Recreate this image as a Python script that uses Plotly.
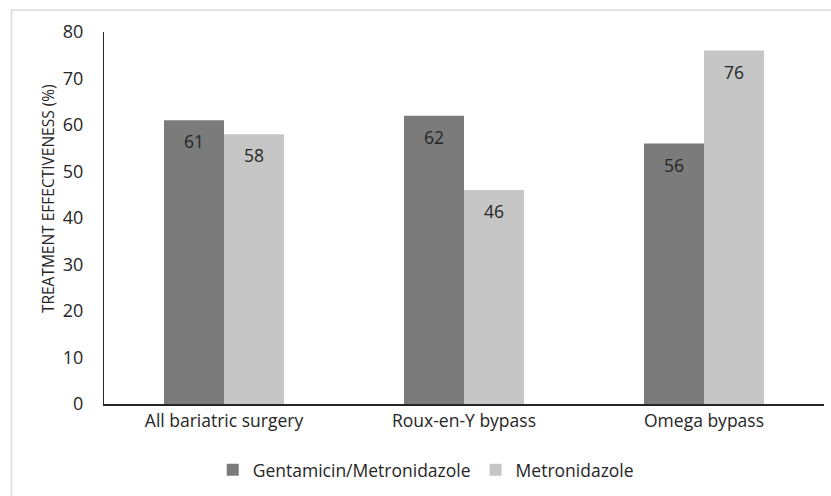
import plotly.graph_objects as go

categories = ["All bariatric surgery", "Roux-en-Y bypass", "Omega bypass"]
genta_metro = [61, 62, 56]
metro = [58, 46, 76]
series_names = ["Gentamicin/Metronidazole", "Metronidazole"]
y_ticks = [0, 10, 20, 30, 40, 50, 60, 70, 80]
y_title = "TREATMENT EFFECTIVENESS (%)"

FONT = "'Open Sans', sans-serif"
DARK = "#7b7b7b"
LIGHT = "#c5c6c5"
TXT = "#262626"

fig = go.Figure()
fig.add_trace(go.Bar(name=series_names[0], x=categories, y=genta_metro,
                     marker=dict(color=DARK, line=dict(width=0))))
fig.add_trace(go.Bar(name=series_names[1], x=categories, y=metro,
                     marker=dict(color=LIGHT, line=dict(width=0))))

annotations = []
for vals, shift in ((genta_metro, -30), (metro, 30)):
    for c, v in zip(categories, vals):
        annotations.append(dict(x=c, y=v, xref="x", yref="y", text=str(v),
                                showarrow=False, xshift=shift, yshift=-21,
                                font=dict(family=FONT, size=17.5, color=TXT)))
annotations.append(dict(x=-0.078, y=0.553, xref="paper", yref="paper", text=y_title,
                        textangle=-90, showarrow=False, xanchor="center", yanchor="middle",
                        font=dict(family=FONT, size=15.5, color=TXT)))

fig.update_layout(
    width=831, height=496,
    margin=dict(l=104, r=7, t=32, b=92),
    paper_bgcolor="white", plot_bgcolor="white",
    barmode="group", bargap=0.5, bargroupgap=0,
    font=dict(family=FONT, size=17, color=TXT),
    showlegend=True,
    legend=dict(orientation="h", x=0.151, xanchor="left", y=-0.177, yanchor="middle",
                font=dict(family=FONT, size=17.5, color=TXT), itemwidth=30,
                traceorder="normal"),
    annotations=annotations,
    shapes=[dict(type="rect", xref="paper", yref="paper",
                 x0=-0.1285, x1=1.05, y0=-0.3, y1=1.059,
                 line=dict(color="#d9d9d9", width=1.5), layer="below")],
)
fig.update_xaxes(showline=True, linecolor="#262626", linewidth=1.5, ticks="",
                 tickfont=dict(family=FONT, size=17.5, color=TXT), showgrid=False)
fig.update_yaxes(range=[0, 80], tickvals=y_ticks, showline=True, linecolor="#262626",
                 linewidth=1.2, ticks="", showgrid=False, zeroline=False,
                 ticklabelstandoff=16,
                 tickfont=dict(family=FONT, size=18, color=TXT))

fig.write_html("out.html")
